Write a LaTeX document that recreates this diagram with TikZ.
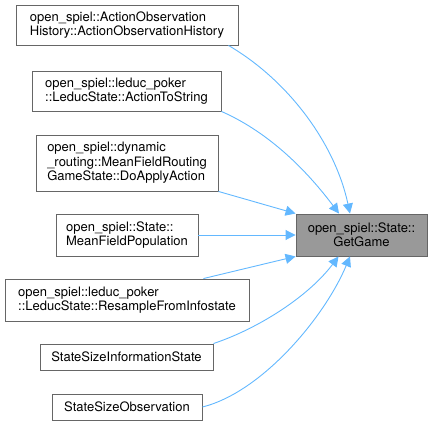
\documentclass[tikz,border=0pt]{standalone}
\usepackage{fontspec}
\setmainfont{TeX Gyre Heros}
\usepackage{xcolor}
\usepackage{tikz}
\usetikzlibrary{arrows.meta}
\definecolor{dxEdge}{HTML}{63B8FF}
\definecolor{dxBorder}{HTML}{666666}
\definecolor{dxFocus}{HTML}{999999}

\begin{document}
\begin{tikzpicture}[x=1pt,y=-1pt,font=\fontsize{13}{14.5}\selectfont,
  caller/.style={draw=dxBorder,line width=0.9pt,fill=white,align=left,inner sep=0pt},
  focus/.style={draw=dxBorder,line width=0.9pt,fill=dxFocus,align=center,inner sep=0pt},
  call/.style={dxEdge,line width=0.9pt,-{Triangle[length=10pt,width=10pt]}}]
\useasboundingbox (0,0) rectangle (432,425);
% callers
\node[caller,minimum width=222pt,minimum height=40pt] (aoh) at (127,25) {open\_spiel::ActionObservation\\History::ActionObservationHistory};
\node[caller,minimum width=189pt,minimum height=40pt] (ats) at (126.5,91) {open\_spiel::leduc\_poker\\::LeducState::ActionToString};
\node[caller,minimum width=182pt,minimum height=56pt] (daa) at (127,163) {open\_spiel::dynamic\\\_routing::MeanFieldRouting\\GameState::DoApplyAction};
\node[caller,minimum width=142pt,minimum height=42pt] (mfp) at (127,235) {open\_spiel::State::\\MeanFieldPopulation};
\node[caller,minimum width=244pt,minimum height=42pt] (rfi) at (127,300) {open\_spiel::leduc\_poker\\::LeducState::ResampleFromInfostate};
\node[caller,minimum width=173pt,minimum height=26pt] (ssi) at (126.5,357) {StateSizeInformationState};
\node[caller,minimum width=150pt,minimum height=26pt] (sso) at (127,407) {StateSizeObservation};
% callee
\node[focus,minimum width=131pt,minimum height=42pt] (gg) at (361.5,235) {open\_spiel::State::\\GetGame};
% calls
\draw[call] ([xshift=-10pt]aoh.south east) .. controls +(60,35) and +(-15,-70) .. ([xshift=-11.5pt]gg.north);
\draw[call] (ats.south east) .. controls +(50,22) and +(-30,-40) .. ([xshift=-22.5pt]gg.north);
\draw[call] (daa.south east) -- (gg.north west);
\draw[call] (mfp.east) -- (gg.west);
\draw[call] ([xshift=-46pt]rfi.north east) -- (gg.south west);
\draw[call] (ssi.north east) .. controls +(45,-15) and +(-30,40) .. ([xshift=-23pt]gg.south);
\draw[call] (sso.east) .. controls +(60,-15) and +(-25,60) .. ([xshift=-11.5pt]gg.south);
\end{tikzpicture}
\end{document}
